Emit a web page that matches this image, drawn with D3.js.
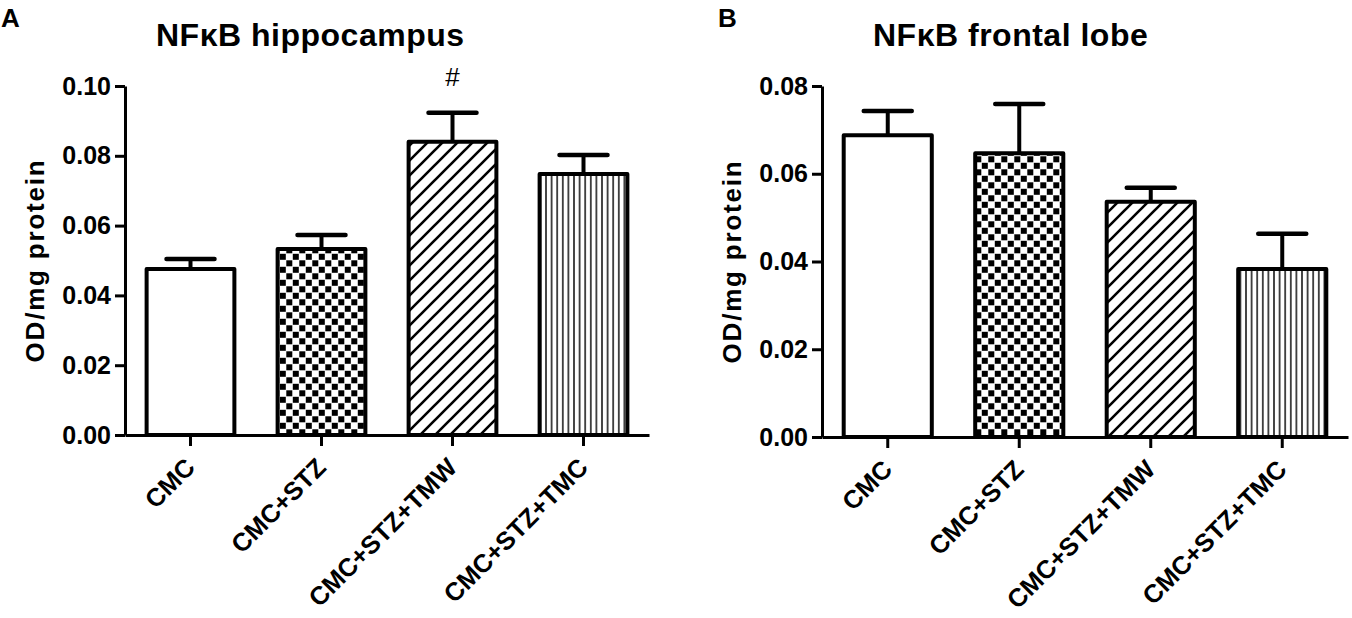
<!DOCTYPE html>
<html>
<head>
<meta charset="utf-8">
<script src="https://cdn.jsdelivr.net/npm/d3@7"></script>
<style>
  body { margin: 0; background: #fff; }
  svg { display: block; font-family: Arial, "Liberation Sans", sans-serif; }
  .axis path, .axis line { stroke: #000; stroke-width: 3px; }
  .axis text { font-family: Arial, "Liberation Sans", sans-serif; font-size: 25px; font-weight: bold; fill: #000; }
  .x-labels text { font-size: 25.5px; }
</style>
</head>
<body>
<svg id="chart"></svg>
<script>
// Group names (same for both panels)
const categories = ['CMC', 'CMC+STZ', 'CMC+STZ+TMW', 'CMC+STZ+TMC'];
const fills = ['url(#plain)', 'url(#checker)', 'url(#diag)', 'url(#vert)'];

// Panel A, hippocampus: mean and SEM
const hippoMean = [0.0476, 0.0533, 0.0840, 0.0748];
const hippoSem = [0.0028, 0.0040, 0.0083, 0.0054];
const hippoTicks = [0, 0.02, 0.04, 0.06, 0.08, 0.10];
const hippoMarks = ['', '', '#', ''];

// Panel B, frontal lobe: mean and SEM
const frontalMean = [0.0688, 0.0647, 0.0536, 0.0383];
const frontalSem = [0.0055, 0.0112, 0.0032, 0.0080];
const frontalTicks = [0, 0.02, 0.04, 0.06, 0.08];
const frontalMarks = ['', '', '', ''];

const svg = d3.select('#chart')
  .attr('width', 1352)
  .attr('height', 618);

// Fill patterns for the bars
const defs = svg.append('defs');

defs.append('pattern')
  .attr('id', 'plain')
  .attr('patternUnits', 'userSpaceOnUse')
  .attr('width', 4).attr('height', 4)
  .append('rect').attr('width', 4).attr('height', 4).attr('fill', '#fff');

let checker = defs.append('pattern')
  .attr('id', 'checker')
  .attr('patternUnits', 'userSpaceOnUse')
  .attr('width', 13).attr('height', 13);
checker.append('rect').attr('width', 13).attr('height', 13).attr('fill', '#fff');
checker.append('rect').attr('x', 0.3).attr('y', 0.3).attr('width', 6).attr('height', 6).attr('fill', '#000');
checker.append('rect').attr('x', 6.8).attr('y', 6.8).attr('width', 6).attr('height', 6).attr('fill', '#000');

let diag = defs.append('pattern')
  .attr('id', 'diag')
  .attr('patternUnits', 'userSpaceOnUse')
  .attr('width', 15).attr('height', 15);
diag.append('rect').attr('width', 15).attr('height', 15).attr('fill', '#fff');
diag.append('path')
  .attr('d', 'M-3,3 L3,-3 M0,15 L15,0 M12,18 L18,12')
  .attr('stroke', '#000')
  .attr('stroke-width', 2.6);

let vert = defs.append('pattern')
  .attr('id', 'vert')
  .attr('patternUnits', 'userSpaceOnUse')
  .attr('width', 5.6).attr('height', 10);
vert.append('rect').attr('width', 5.6).attr('height', 10).attr('fill', '#fff');
vert.append('line')
  .attr('x1', 2.8).attr('x2', 2.8).attr('y1', 0).attr('y2', 10)
  .attr('stroke', '#000')
  .attr('stroke-width', 1.4);

function drawPanel(cfg) {
  const g = svg.append('g');

  const x = d3.scaleBand()
    .domain(categories)
    .range([cfg.left, cfg.right])
    .paddingInner(0.33)
    .paddingOuter(0.165);

  const y = d3.scaleLinear()
    .domain([0, d3.max(cfg.ticks)])
    .range([cfg.bottom, cfg.top]);

  // Bars
  g.selectAll('.bar')
    .data(cfg.mean)
    .enter().append('rect')
    .attr('class', 'bar')
    .attr('x', (d, i) => x(categories[i]))
    .attr('y', d => y(d))
    .attr('width', x.bandwidth())
    .attr('height', d => y(0) - y(d))
    .attr('fill', (d, i) => fills[i])
    .attr('stroke', '#000')
    .attr('stroke-width', 4)
    .attr('stroke-linejoin', 'round');

  // Error bars (upper half only)
  const capW = 48;
  const err = g.selectAll('.err')
    .data(cfg.mean)
    .enter().append('g')
    .attr('class', 'err')
    .attr('transform', (d, i) => `translate(${x(categories[i]) + x.bandwidth() / 2},0)`);

  err.append('line')
    .attr('y1', d => y(d))
    .attr('y2', (d, i) => y(d + cfg.sem[i]))
    .attr('stroke', '#000')
    .attr('stroke-width', 4);

  err.append('line')
    .attr('x1', -capW / 2)
    .attr('x2', capW / 2)
    .attr('y1', (d, i) => y(d + cfg.sem[i]))
    .attr('y2', (d, i) => y(d + cfg.sem[i]))
    .attr('stroke', '#000')
    .attr('stroke-width', 4.5)
    .attr('stroke-linecap', 'round');

  // Significance marks
  err.append('text')
    .attr('y', (d, i) => y(d + cfg.sem[i]) - 27)
    .attr('text-anchor', 'middle')
    .style('font-size', '26px')
    .text((d, i) => cfg.marks[i]);

  // Axes
  g.append('g')
    .attr('class', 'axis')
    .attr('transform', `translate(${cfg.left},0)`)
    .call(d3.axisLeft(y)
      .tickValues(cfg.ticks)
      .tickFormat(d3.format('.2f'))
      .tickSize(10)
      .tickSizeOuter(0)
      .tickPadding(4));

  const xAxis = g.append('g')
    .attr('class', 'axis x-labels')
    .attr('transform', `translate(0,${cfg.bottom})`)
    .call(d3.axisBottom(x).tickSize(11).tickSizeOuter(0));

  xAxis.selectAll('text')
    .attr('text-anchor', 'end')
    .attr('y', 0)
    .attr('dy', 0)
    .attr('transform', 'translate(6,34) rotate(-45)');

  // Y axis label
  g.append('text')
    .attr('transform', `translate(${cfg.left - 81},${(cfg.top + cfg.bottom) / 2}) rotate(-90)`)
    .attr('text-anchor', 'middle')
    .style('font-size', '26px')
    .style('font-weight', 'bold')
    .style('letter-spacing', '1.8px')
    .text('OD/mg protein');

  // Title
  g.append('text')
    .attr('x', cfg.titleX)
    .attr('y', 46)
    .style('font-size', '32px')
    .style('font-weight', 'bold')
    .style('letter-spacing', '0.5px')
    .text(cfg.title);

  // Panel letter
  g.append('text')
    .attr('x', cfg.letterX)
    .attr('y', 27)
    .style('font-size', '26px')
    .style('font-weight', 'bold')
    .text(cfg.letter);
}

drawPanel({
  left: 125, right: 649, top: 86, bottom: 435,
  ticks: hippoTicks, mean: hippoMean, sem: hippoSem, marks: hippoMarks,
  title: 'NF\u03BAB hippocampus', titleX: 156, letter: 'A', letterX: 1
});

drawPanel({
  left: 822, right: 1348, top: 86, bottom: 437,
  ticks: frontalTicks, mean: frontalMean, sem: frontalSem, marks: frontalMarks,
  title: 'NF\u03BAB frontal lobe', titleX: 873, letter: 'B', letterX: 718
});
</script>
</body>
</html>
